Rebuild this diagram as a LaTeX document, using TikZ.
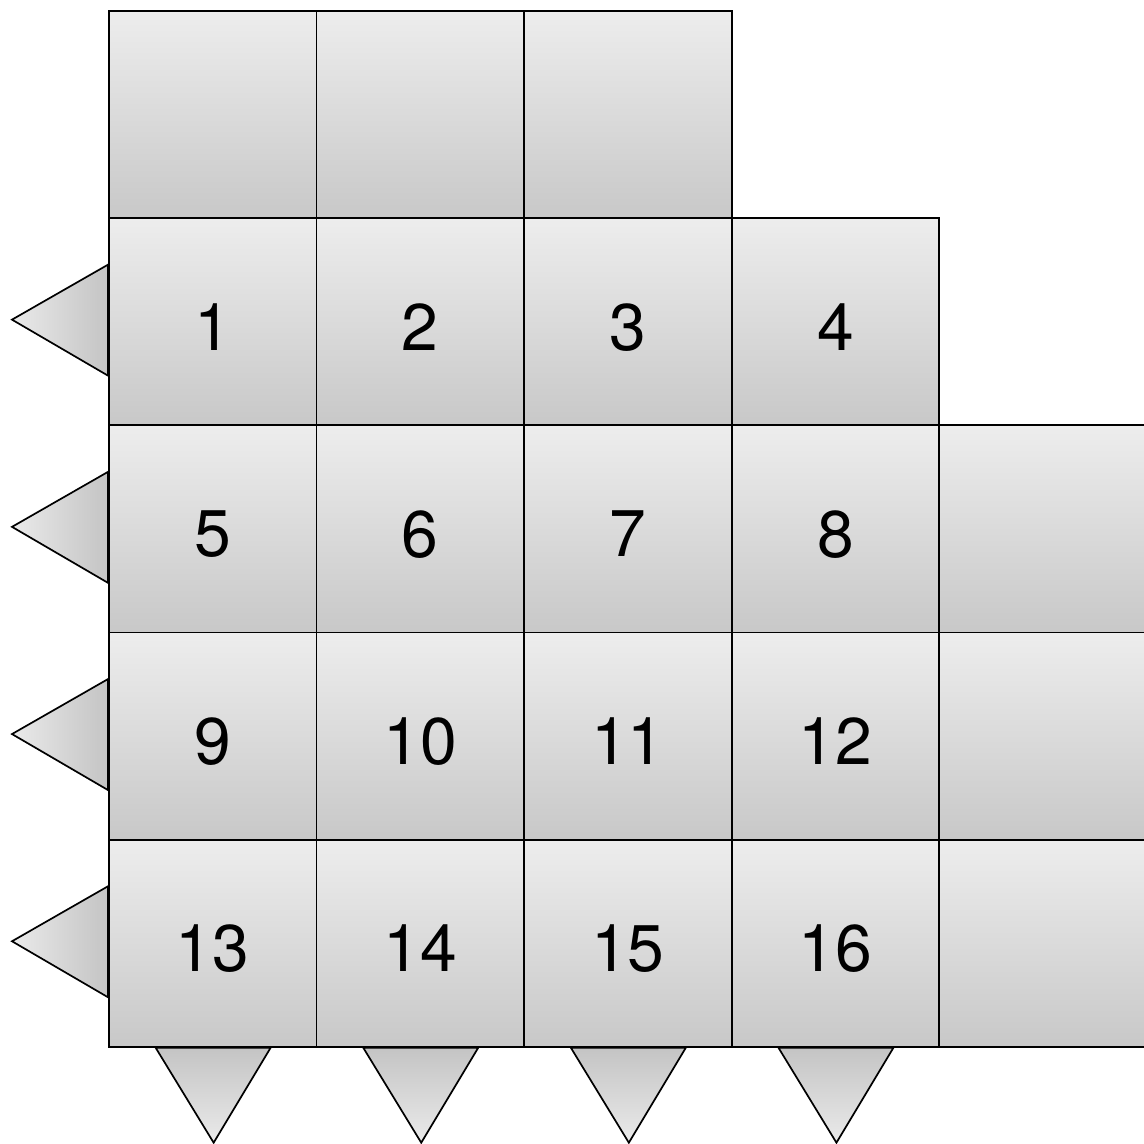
\documentclass[tikz,border=0pt]{standalone}
\usepackage{fontspec}
\setmainfont{TeX Gyre Heros}
\usetikzlibrary{calc,backgrounds}
\definecolor{cellTop}{HTML}{EDEDED}
\definecolor{cellBot}{HTML}{C8C8C8}
\definecolor{triLight}{HTML}{EAEAEA}
\definecolor{triDark}{HTML}{C4C4C4}
\newcommand{\lowered}[1]{\raisebox{-5pt}[\height][0pt]{#1}}
\begin{document}
\begin{tikzpicture}[x=1pt,y=-1pt,
  cell/.style={draw=black, line width=1.7pt, rectangle, anchor=north west,
    minimum width=207.6pt, minimum height=207.2pt, inner sep=0pt,
    top color=cellTop, bottom color=cellBot,
    font=\fontsize{66}{72}\selectfont},
  tri/.style={draw=black, line width=1.7pt, line join=miter},
  lefttri/.style={tri, left color=triLight, right color=triDark},
  downtri/.style={tri, top color=triDark, bottom color=triLight}]
\useasboundingbox (0,0) rectangle (1144,1144);
\clip (0,0) rectangle (1144,1144);
\def\cx#1{108+#1*207.6}
\def\cy#1{10+#1*207.2}
% top row (blank)
\node[cell] (t1) at (\cx{0},\cy{0}) {};
\node[cell] (t2) at (\cx{1},\cy{0}) {};
\node[cell] (t3) at (\cx{2},\cy{0}) {};
% numbered rows
\node[cell] (c1) at (\cx{0},\cy{1}) {\lowered{1}};
\node[cell] (c2) at (\cx{1},\cy{1}) {\lowered{2}};
\node[cell] (c3) at (\cx{2},\cy{1}) {\lowered{3}};
\node[cell] (c4) at (\cx{3},\cy{1}) {\lowered{4}};
\node[cell] (c5) at (\cx{0},\cy{2}) {\lowered{5}};
\node[cell] (c6) at (\cx{1},\cy{2}) {\lowered{6}};
\node[cell] (c7) at (\cx{2},\cy{2}) {\lowered{7}};
\node[cell] (c8) at (\cx{3},\cy{2}) {\lowered{8}};
\node[cell] (e2) at (\cx{4},\cy{2}) {};
\node[cell] (c9) at (\cx{0},\cy{3}) {\lowered{9}};
\node[cell] (c10) at (\cx{1},\cy{3}) {\lowered{10}};
\node[cell] (c11) at (\cx{2},\cy{3}) {\lowered{11}};
\node[cell] (c12) at (\cx{3},\cy{3}) {\lowered{12}};
\node[cell] (e3) at (\cx{4},\cy{3}) {};
\node[cell] (c13) at (\cx{0},\cy{4}) {\lowered{13}};
\node[cell] (c14) at (\cx{1},\cy{4}) {\lowered{14}};
\node[cell] (c15) at (\cx{2},\cy{4}) {\lowered{15}};
\node[cell] (c16) at (\cx{3},\cy{4}) {\lowered{16}};
\node[cell] (e4) at (\cx{4},\cy{4}) {};
\begin{scope}[on background layer]
  \fill[white] (0,0) rectangle (1144,1144);
  \foreach \n in {c1,c5,c9,c13}{
    \path[lefttri] ($(\n.west)+(0,-57)$) -- ($(\n.west)+(-96,-2)$) -- ($(\n.west)+(0,54)$) -- cycle;
  }
  \foreach \n in {c13,c14,c15,c16}{
    \path[downtri] ($(\n.south)+(-57,0)$) -- ($(\n.south)+(1,95)$) -- ($(\n.south)+(58,0)$) -- cycle;
  }
\end{scope}
\end{tikzpicture}
\end{document}
